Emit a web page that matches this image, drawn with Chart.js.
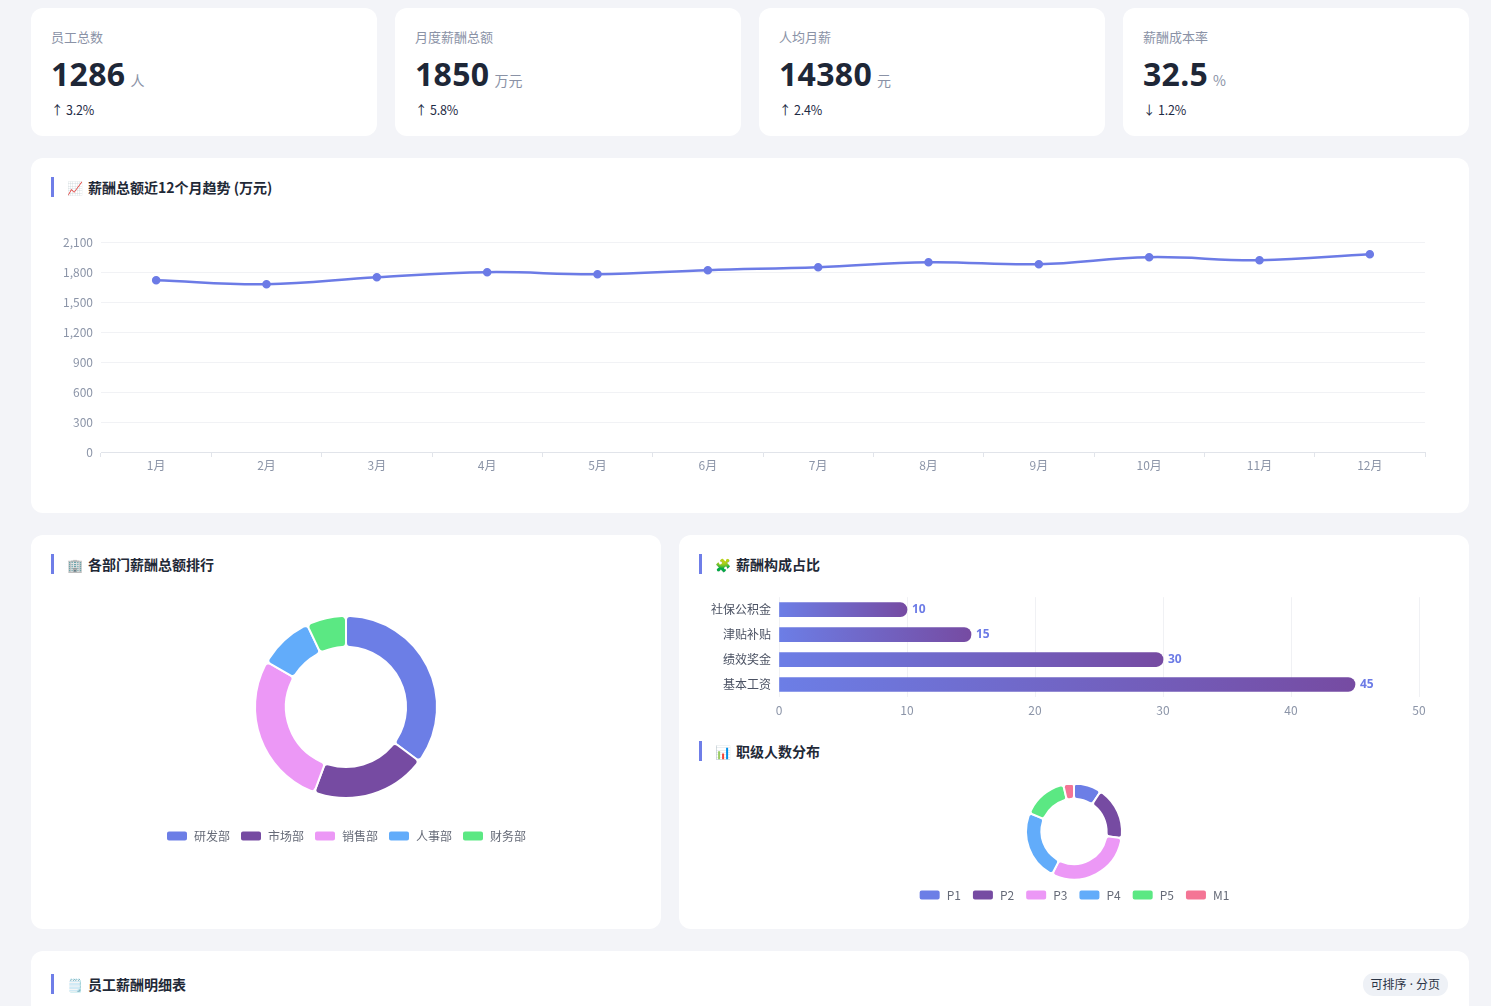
<!DOCTYPE html>
<html lang="zh-CN">
<head>
<meta charset="utf-8">
<title>薪酬概览</title>
<script src="https://cdn.jsdelivr.net/npm/chart.js@4.4.1/dist/chart.umd.min.js"></script>
<style>
    * { box-sizing: border-box; }
    html, body { margin: 0; padding: 0; }
    body {
        width: 1491px;
        height: 1006px;
        overflow: hidden;
        background: #f3f4f8;
        font-family: "Noto Sans CJK SC", "Noto Sans", "Open Sans", sans-serif;
        color: #1f2937;
        position: relative;
    }
    .card {
        position: absolute;
        background: #fff;
        border-radius: 12px;
    }
    .stat .label {
        position: absolute; left: 20px; top: 19px;
        font-size: 13px; line-height: 20px; color: #8a92a6;
    }
    .stat .value {
        position: absolute; left: 20px; top: 44px;
        font-size: 32px; line-height: 44px; font-weight: 700; color: #1e2737;
        font-family: "Noto Sans", "Open Sans", sans-serif;
        letter-spacing: 0.3px;
    }
    .stat .value small {
        font-size: 14px; font-weight: 400; color: #8a92a6; margin-left: 5px;
        font-family: "Noto Sans CJK SC", sans-serif; letter-spacing: 0;
    }
    .stat .change {
        position: absolute; left: 20px; top: 92px;
        font-size: 12.5px; line-height: 20px; color: #1e2b45;
        letter-spacing: -0.2px;
    }
    .title {
        position: absolute; left: 20px;
        height: 20px; line-height: 20px;
        border-left: 3px solid #6f7ee8;
        padding-left: 13px;
        font-size: 14px; font-weight: 700; color: #1f2937;
    }
    .title .icon { font-size: 13px; margin-right: 5px; font-weight: 400; }
    .box { position: absolute; }
    .badge {
        position: absolute; right: 21px; top: 22px;
        background: #eef1f6; border-radius: 11px;
        font-size: 12px; line-height: 22px; padding: 0 8px; color: #2b3445;
    }
    .badge .dot { font-family: "Noto Sans", sans-serif; }
</style>
</head>
<body>

<div class="card stat" style="left:31px;top:8px;width:346px;height:128px">
    <div class="label">员工总数</div>
    <div class="value">1286<small>人</small></div>
    <div class="change">↑ 3.2%</div>
</div>
<div class="card stat" style="left:395px;top:8px;width:346px;height:128px">
    <div class="label">月度薪酬总额</div>
    <div class="value">1850<small>万元</small></div>
    <div class="change">↑ 5.8%</div>
</div>
<div class="card stat" style="left:759px;top:8px;width:346px;height:128px">
    <div class="label">人均月薪</div>
    <div class="value">14380<small>元</small></div>
    <div class="change">↑ 2.4%</div>
</div>
<div class="card stat" style="left:1123px;top:8px;width:346px;height:128px">
    <div class="label">薪酬成本率</div>
    <div class="value">32.5<small>%</small></div>
    <div class="change">↓ 1.2%</div>
</div>

<div class="card" style="left:31px;top:158px;width:1438px;height:355px">
    <div class="title" style="top:19px"><span class="icon">📈</span>薪酬总额近12个月趋势 (万元)</div>
    <div class="box" style="left:20px;top:69px;width:1398px;height:249px"><canvas id="trendChart"></canvas></div>
</div>

<div class="card" style="left:31px;top:535px;width:630px;height:394px">
    <div class="title" style="top:19px"><span class="icon">🏢</span>各部门薪酬总额排行</div>
    <div class="box" style="left:0;top:59px;width:630px;height:258px"><canvas id="deptChart"></canvas></div>
</div>

<div class="card" style="left:679px;top:535px;width:790px;height:394px">
    <div class="title" style="top:19px"><span class="icon">🧩</span>薪酬构成占比</div>
    <div class="box" style="left:20px;top:47px;width:750px;height:137px"><canvas id="compChart"></canvas></div>
    <div class="title" style="top:206px"><span class="icon">📊</span>职级人数分布</div>
    <div class="box" style="left:0;top:250px;width:790px;height:126px"><canvas id="levelChart"></canvas></div>
</div>

<div class="card" style="left:31px;top:951px;width:1438px;height:120px">
    <div class="title" style="top:23px"><span class="icon">🗒️</span>员工薪酬明细表</div>
    <div class="badge">可排序<span class="dot"> · </span>分页</div>
</div>

<script>
    // 近12个月薪酬总额 (万元)
    const months = ['1月', '2月', '3月', '4月', '5月', '6月', '7月', '8月', '9月', '10月', '11月', '12月']
    const monthlyTotals = [1720, 1680, 1750, 1800, 1780, 1820, 1850, 1900, 1880, 1950, 1920, 1980]

    // 各部门薪酬总额 (万元)
    const departments = ['研发部', '市场部', '销售部', '人事部', '财务部']
    const departmentTotals = [650, 380, 510, 180, 130]

    // 薪酬构成占比 (%)
    const components = ['社保公积金', '津贴补贴', '绩效奖金', '基本工资']
    const componentShares = [10, 15, 30, 45]

    // 职级人数
    const levels = ['P1', 'P2', 'P3', 'P4', 'P5', 'M1']
    const levelCounts = [120, 230, 390, 305, 195, 46]

    const palette = ['#6c7ee6', '#764ba2', '#ec98f6', '#62acfa', '#5be883', '#f47595']

    Chart.defaults.font.family = '"Noto Sans CJK SC", "Noto Sans", sans-serif';
    Chart.defaults.font.size = 12;
    Chart.defaults.animation = false;

    const tickGrey = '#8c95a8';

    new Chart(document.getElementById('trendChart'), {
        type: 'line',
        data: {
            labels: months,
            datasets: [{
                label: '薪酬总额',
                data: monthlyTotals,
                borderColor: '#6c7be6',
                backgroundColor: '#6c7be6',
                pointBackgroundColor: '#6c7be6',
                pointBorderColor: '#6c7be6',
                pointRadius: 3,
                borderWidth: 2.5,
                tension: 0.4,
                fill: false
            }]
        },
        options: {
            responsive: true,
            maintainAspectRatio: false,
            layout: {padding: {right: 24}},
            plugins: {legend: {display: false}, tooltip: {enabled: false}},
            scales: {
                x: {
                    offset: true,
                    grid: {
                        display: true,
                        offset: true,
                        drawOnChartArea: false,
                        tickLength: 5,
                        color: '#e1e4ea'
                    },
                    border: {display: true, color: '#e1e4ea'},
                    ticks: {color: tickGrey, padding: 1, maxRotation: 0},
                    afterFit: (scale) => { scale.height = 24 }
                },
                y: {
                    min: 0,
                    max: 2100,
                    ticks: {stepSize: 300, color: tickGrey, padding: 8},
                    grid: {color: '#f1f2f5', drawTicks: false},
                    border: {display: false},
                    afterFit: (scale) => { scale.width = 50 }
                }
            }
        }
    });

    new Chart(document.getElementById('deptChart'), {
        type: 'doughnut',
        data: {
            labels: departments,
            datasets: [{
                data: departmentTotals,
                backgroundColor: palette.slice(0, 5),
                borderColor: '#ffffff',
                borderWidth: 2,
                borderRadius: 4
            }]
        },
        options: {
            responsive: true,
            maintainAspectRatio: false,
            radius: 91,
            cutout: '66%',
            plugins: {
                tooltip: {enabled: false},
                legend: {
                    position: 'bottom',
                    labels: {
                        boxWidth: 22,
                        boxHeight: 11,
                        padding: 10,
                        color: '#666b78',
                        font: {size: 12},
                        useBorderRadius: true,
                        borderRadius: 3
                    }
                }
            }
        }
    });

    const valueLabels = {
        id: 'valueLabels',
        afterDatasetsDraw(chart) {
            const {ctx} = chart
            const meta = chart.getDatasetMeta(0)
            ctx.save()
            ctx.font = '700 12px "Noto Sans", sans-serif'
            ctx.fillStyle = '#6c7be6'
            ctx.textBaseline = 'middle'
            meta.data.forEach((bar, i) => {
                ctx.fillText(String(chart.data.datasets[0].data[i]), bar.x + 5, bar.y)
            })
            ctx.restore()
        }
    }

    new Chart(document.getElementById('compChart'), {
        type: 'bar',
        data: {
            labels: components,
            datasets: [{
                data: componentShares,
                backgroundColor: (c) => {
                    const {chart} = c
                    if (!chart.chartArea) {
                        return '#6c7ee6'
                    }
                    const x0 = chart.scales.x.getPixelForValue(0)
                    const x1 = chart.scales.x.getPixelForValue(c.raw)
                    const g = chart.ctx.createLinearGradient(x0, 0, x1, 0)
                    g.addColorStop(0, '#6c7ee6')
                    g.addColorStop(1, '#764ba2')
                    return g
                },
                borderRadius: 7,
                borderSkipped: 'start',
                barThickness: 14
            }]
        },
        options: {
            indexAxis: 'y',
            responsive: true,
            maintainAspectRatio: false,
            layout: {padding: {right: 30}},
            plugins: {legend: {display: false}, tooltip: {enabled: false}},
            scales: {
                x: {
                    min: 0,
                    max: 50,
                    ticks: {stepSize: 10, color: tickGrey, padding: 6},
                    grid: {color: '#f0f1f4', drawTicks: false},
                    border: {display: false},
                    afterFit: (scale) => { scale.height = 22 }
                },
                y: {
                    ticks: {color: '#4b5263', padding: 8},
                    grid: {display: false, drawTicks: false},
                    border: {display: false},
                    afterFit: (scale) => { scale.width = 80 }
                }
            }
        },
        plugins: [valueLabels]
    });

    new Chart(document.getElementById('levelChart'), {
        type: 'doughnut',
        data: {
            labels: levels,
            datasets: [{
                data: levelCounts,
                backgroundColor: palette,
                borderColor: '#ffffff',
                borderWidth: 2,
                borderRadius: 3,
                clip: false
            }]
        },
        options: {
            responsive: true,
            maintainAspectRatio: false,
            radius: 48,
            cutout: '68%',
            plugins: {
                tooltip: {enabled: false},
                legend: {
                    position: 'bottom',
                    labels: {
                        boxWidth: 22,
                        boxHeight: 11,
                        padding: 11,
                        color: '#666b78',
                        font: {size: 12},
                        useBorderRadius: true,
                        borderRadius: 3
                    }
                }
            }
        }
    });
</script>
</body>
</html>
